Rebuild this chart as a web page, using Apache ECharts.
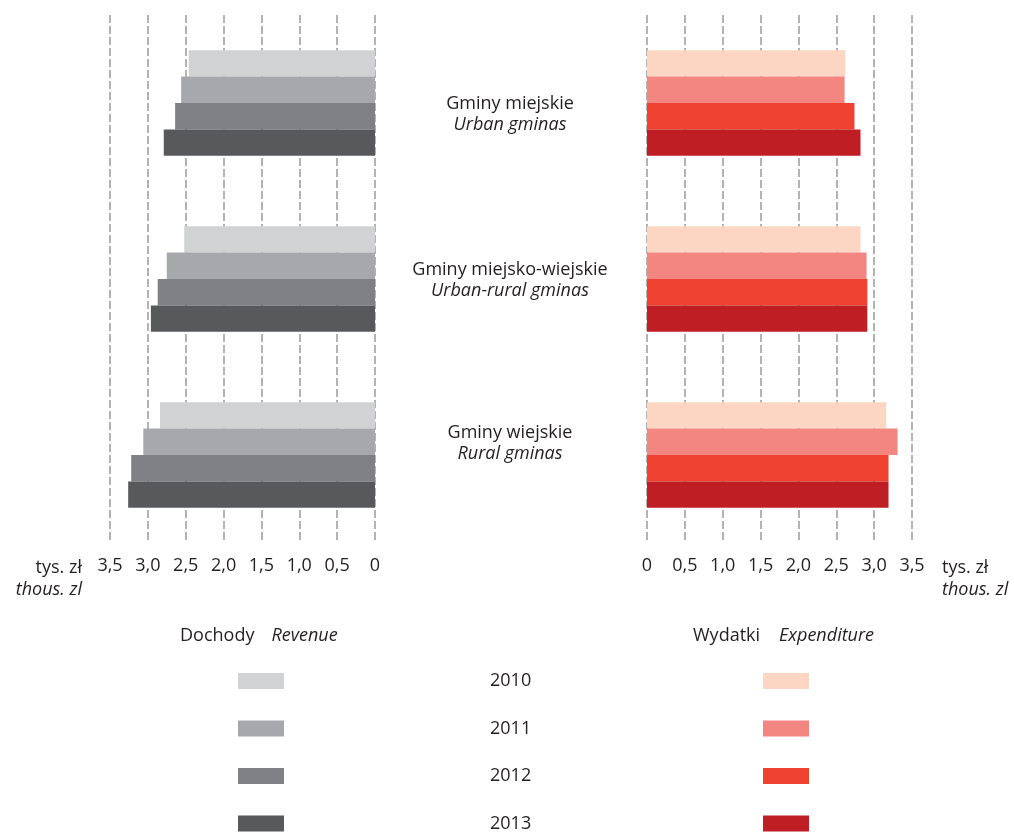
<!DOCTYPE html>
<html>
<head>
<meta charset="utf-8">
<script src="https://cdn.jsdelivr.net/npm/echarts@6/dist/echarts.min.js"></script>
<style>
  html, body { margin: 0; padding: 0; background: #fff; }
  #main { width: 1014px; height: 833px; }
</style>
</head>
<body>
<div id="main"></div>
<script>
// categories (top to bottom)
const gminaTypes = ['Gminy miejskie', 'Gminy miejsko-wiejskie', 'Gminy wiejskie']
const gminaTypesEn = ['Urban gminas', 'Urban-rural gminas', 'Rural gminas']
const years = ['2010', '2011', '2012', '2013']

// revenue per capita, thous. zl
const revenue2010 = [2.46, 2.52, 2.84]
const revenue2011 = [2.56, 2.75, 3.06]
const revenue2012 = [2.64, 2.87, 3.22]
const revenue2013 = [2.79, 2.96, 3.26]

// expenditure per capita, thous. zl
const expenditure2010 = [2.62, 2.82, 3.16]
const expenditure2011 = [2.61, 2.90, 3.31]
const expenditure2012 = [2.74, 2.91, 3.19]
const expenditure2013 = [2.82, 2.91, 3.19]

const revenueData = [revenue2010, revenue2011, revenue2012, revenue2013]
const expenditureData = [expenditure2010, expenditure2011, expenditure2012, expenditure2013]

const revenueColors = ['#D1D2D4', '#A7A8AB', '#808184', '#58595B']
const expenditureColors = ['#FCD5C3', '#F48682', '#EE4130', '#BE1E24']
// vertical nudge of the category labels
const labelPads = [[23, 0, 0, 0], [3, 0, 0, 0], [0, 0, 23, 0]]

const FONT = '"Open Sans", "Noto Sans", sans-serif'
const TXT = '#231F20'

const chart = echarts.init(document.getElementById('main'))

function tickFmt(v) {
  return v === 0 ? '0' : v.toFixed(1).replace('.', ',')
}

const richTwo = {
  a: { fontSize: 18, fontFamily: FONT, color: TXT, lineHeight: 22, fontWeight: 'normal' },
  b: { fontSize: 18, fontFamily: FONT, color: TXT, lineHeight: 22, fontWeight: 'normal', fontStyle: 'italic' }
}
// legend headers: plain + italic on one line
function richHead(gap) {
  return {
    a: { fontSize: 18, fontFamily: FONT, color: TXT, lineHeight: 22, fontWeight: 'normal' },
    b: { fontSize: 18, fontFamily: FONT, color: TXT, lineHeight: 22, fontWeight: 'normal', fontStyle: 'italic', padding: [0, 0, 0, gap] }
  }
}

const valueAxis = {
  type: 'value',
  min: 0,
  max: 3.5,
  interval: 0.5,
  axisLine: { show: false },
  axisTick: { show: false },
  axisLabel: { color: TXT, fontSize: 18, fontFamily: FONT, margin: 14, formatter: tickFmt },
  splitLine: { show: true, lineStyle: { color: '#9a9a9a', width: 1.5, type: [8, 3] } },
  nameLocation: 'end',
  nameTextStyle: {
    verticalAlign: 'top',
    padding: [14, 0, 0, 0],
    rich: richTwo
  },
  name: '{a|tys. zł}\n{b|thous. zl}'
}

const series = []
years.forEach((y, i) => {
  series.push({
    name: 'Dochody ' + y,
    type: 'bar',
    xAxisIndex: 0,
    yAxisIndex: 0,
    barGap: '0%',
    barCategoryGap: '40%',
    itemStyle: { color: revenueColors[i] },
    data: revenueData[i]
  })
})
years.forEach((y, i) => {
  series.push({
    name: 'Wydatki ' + y,
    type: 'bar',
    xAxisIndex: 1,
    yAxisIndex: 1,
    barGap: '0%',
    barCategoryGap: '40%',
    itemStyle: { color: expenditureColors[i] },
    data: expenditureData[i]
  })
})

const option = {
  animation: false,
  backgroundColor: '#fff',
  textStyle: { fontFamily: FONT },
  title: [
    {
      left: 180, top: 625, padding: 0,
      text: '{a|Dochody}{b|Revenue}',
      textStyle: { fontWeight: 'normal', rich: richHead(17) }
    },
    {
      left: 693, top: 625, padding: 0,
      text: '{a|Wydatki}{b|Expenditure}',
      textStyle: { fontWeight: 'normal', rich: richHead(19) }
    }
  ],
  legend: [
    {
      orient: 'vertical',
      left: 238, top: 672, height: 200, padding: 0,
      icon: 'rect',
      itemWidth: 46, itemHeight: 16, itemGap: 29.5,
      selectedMode: false,
      data: years.map(y => 'Dochody ' + y),
      formatter: name => name.split(' ')[1],
      textStyle: { fontSize: 18, fontFamily: FONT, color: TXT, lineHeight: 16, padding: [0, 0, 0, 201] }
    },
    {
      orient: 'vertical',
      left: 763, top: 672, height: 200, padding: 0,
      icon: 'rect',
      itemWidth: 46, itemHeight: 16, itemGap: 29.5,
      selectedMode: false,
      data: years.map(y => 'Wydatki ' + y),
      formatter: () => ' ',
      textStyle: { fontSize: 18, fontFamily: FONT, lineHeight: 16 }
    }
  ],
  grid: [
    { left: 110, right: 639, top: 15, bottom: 290 },
    { left: 647, right: 102, top: 15, bottom: 290 }
  ],
  xAxis: [
    Object.assign({}, valueAxis, { gridIndex: 0, inverse: true, nameGap: 28 }),
    Object.assign({}, valueAxis, { gridIndex: 1, nameGap: 30 })
  ],
  yAxis: [
    {
      type: 'category', gridIndex: 0, inverse: true,
      data: gminaTypes,
      axisLine: { show: false }, axisTick: { show: false }, axisLabel: { show: false }
    },
    {
      type: 'category', gridIndex: 1, inverse: true,
      data: gminaTypes.map((g, i) => ({
        value: g,
        textStyle: { align: 'center', padding: labelPads[i] }
      })),
      axisLine: { show: false }, axisTick: { show: false },
      axisLabel: {
        margin: 137,
        align: 'center',
        formatter: (v, i) => '{a|' + v + '}\n{b|' + gminaTypesEn[i] + '}',
        rich: {
          a: { fontSize: 18, fontFamily: FONT, color: TXT, lineHeight: 21, align: 'center' },
          b: { fontSize: 18, fontFamily: FONT, color: TXT, lineHeight: 21, align: 'center', fontStyle: 'italic' }
        }
      }
    }
  ],
  series: series
}

option && chart.setOption(option)
</script>
</body>
</html>
